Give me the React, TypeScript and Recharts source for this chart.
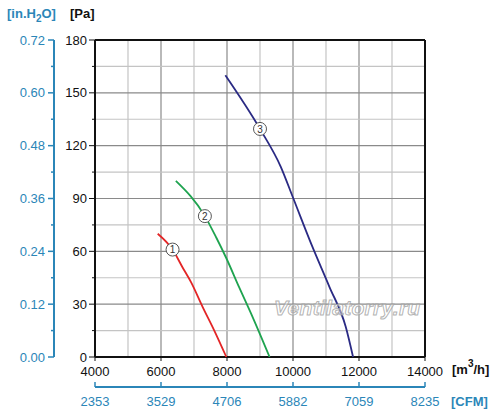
import React from 'react';
import { LineChart, Line, XAxis, YAxis, ReferenceLine } from 'recharts';

// Axis ticks and labels
const flowTicks = [4000, 5000, 6000, 7000, 8000, 9000, 10000, 11000, 12000, 13000, 14000];
const flowLabels = [4000, 6000, 8000, 10000, 12000, 14000];
const cfmLabels = ['2353', '3529', '4706', '5882', '7059', '8235'];
const paTicks = [0, 15, 30, 45, 60, 75, 90, 105, 120, 135, 150, 165, 180];
const paLabels = [0, 30, 60, 90, 120, 150, 180];
const inTicks = [0, 0.06, 0.12, 0.18, 0.24, 0.3, 0.36, 0.42, 0.48, 0.54, 0.6, 0.66, 0.72];
const inLabels = [0, 0.12, 0.24, 0.36, 0.48, 0.6, 0.72];

// Fan curves: air flow [m3/h] and static pressure [Pa]
const flow1 = [5900, 6350, 6650, 6910, 7260, 7615, 7980];
const pres1 = [70, 61, 51, 42.5, 28.5, 15, 0];
const flow2 = [6450, 7330, 7670, 7970, 8370, 8780, 9290];
const pres2 = [100, 80, 68, 56.5, 39.5, 22.5, 0];
const flow3 = [7950, 9000, 9630, 9990, 10590, 11100, 11600, 11820];
const pres3 = [160, 129.5, 108, 91, 62.5, 40, 17, 0];

const toPoints = (q: number[], p: number[]) => q.map((v, i) => ({ q: v, pa: p[i] }));
const curve1 = toPoints(flow1, pres1);
const curve2 = toPoints(flow2, pres2);
const curve3 = toPoints(flow3, pres3);

const BLUE = '#2b86b8';
const FONT = '"Liberation Sans", Arial, sans-serif';

// axis ids sort alphabetically: "a_" sits next to the plot, "b_" outside it
const X_M3 = 'a_m3';
const X_CFM = 'b_cfm';
const Y_PA = 'a_pa';
const Y_IN = 'b_in';

const PaTick = (props: any) => {
  const { x, y, payload } = props;
  const major = paLabels.includes(payload.value);
  return (
    <g>
      <line x1={x - (major ? 6 : 3)} x2={x} y1={y} y2={y} stroke="#111" />
      {major && (
        <text x={x - 8} y={y} dy="0.35em" textAnchor="end" fontSize={13} fill="#111" fontFamily={FONT}>
          {payload.value}
        </text>
      )}
    </g>
  );
};

const InTick = (props: any) => {
  const { x, y, payload } = props;
  const major = inLabels.some((v) => Math.abs(v - payload.value) < 1e-6);
  return (
    <g>
      <line x1={x - (major ? 6 : 3)} x2={x} y1={y} y2={y} stroke={BLUE} strokeWidth={1.5} />
      {major && (
        <text x={x - 9} y={y} dy="0.35em" textAnchor="end" fontSize={13} fill={BLUE} fontFamily={FONT}>
          {payload.value.toFixed(2)}
        </text>
      )}
    </g>
  );
};

const FlowTick = (props: any) => {
  const { x, y, payload } = props;
  const major = flowLabels.includes(payload.value);
  return (
    <g>
      <line x1={x} x2={x} y1={y} y2={y + (major ? 4 : 3)} stroke="#111" />
      {major && (
        <text x={x} y={y + 19} textAnchor="middle" fontSize={13} fill="#111" fontFamily={FONT}>
          {payload.value}
        </text>
      )}
    </g>
  );
};

const CfmTick = (props: any) => {
  const { x, y, payload } = props;
  const idx = flowLabels.indexOf(payload.value);
  return (
    <g>
      <line x1={x} x2={x} y1={y} y2={y - 5} stroke={BLUE} strokeWidth={1.5} />
      {idx >= 0 && (
        <text x={x} y={y + 19} textAnchor="middle" fontSize={13} fill={BLUE} fontFamily={FONT}>
          {cfmLabels[idx]}
        </text>
      )}
    </g>
  );
};

const curveTag = (at: number, name: string) => (props: any) => {
  const { x, y, index } = props;
  if (index !== at) return <g />;
  return (
    <g>
      <circle cx={x} cy={y} r={6.5} fill="#fff" stroke="#555" strokeWidth={1} />
      <text x={x} y={y} dy="0.36em" textAnchor="middle" fontSize={10} fill="#333" fontFamily={FONT}>
        {name}
      </text>
    </g>
  );
};

const App: React.FC = () => {
  return (
    <div style={{ position: 'absolute', left: 0, top: 0, width: 500, height: 418, fontFamily: FONT, background: '#fff' }}>
      <LineChart width={500} height={418} margin={{ top: 40, right: 75, bottom: 0, left: 0 }}>
        <XAxis
          xAxisId={X_M3}
          type="number"
          dataKey="q"
          domain={[4000, 14000]}
          ticks={flowTicks}
          height={30}
          axisLine={false}
          tickLine={false}
          tickSize={0}
          tickMargin={0}
          tick={FlowTick}
        />
        <XAxis
          xAxisId={X_CFM}
          type="number"
          dataKey="q"
          domain={[4000, 14000]}
          ticks={flowTicks}
          allowDataOverflow
          height={31}
          axisLine={{ stroke: BLUE, strokeWidth: 2 }}
          tickLine={false}
          tickSize={0}
          tickMargin={0}
          tick={CfmTick}
        />
        <YAxis
          yAxisId={Y_PA}
          type="number"
          dataKey="pa"
          domain={[0, 180]}
          ticks={paTicks}
          width={41}
          axisLine={false}
          tickLine={false}
          tickSize={0}
          tickMargin={0}
          tick={PaTick}
        />
        <YAxis
          yAxisId={Y_IN}
          type="number"
          domain={[0, 0.72]}
          ticks={inTicks}
          allowDataOverflow
          width={54}
          axisLine={{ stroke: BLUE, strokeWidth: 2 }}
          tickLine={false}
          tickSize={0}
          tickMargin={0}
          tick={InTick}
        />
        {flowTicks.slice(1, -1).map((v) => (
          <ReferenceLine
            key={'vx' + v}
            xAxisId={X_M3}
            yAxisId={Y_PA}
            x={v}
            stroke={flowLabels.includes(v) ? '#8a8a8a' : '#c4c4c4'}
            strokeWidth={1.2}
          />
        ))}
        {paTicks.slice(1, -1).map((v) => (
          <ReferenceLine
            key={'hy' + v}
            xAxisId={X_M3}
            yAxisId={Y_PA}
            y={v}
            stroke={paLabels.includes(v) ? '#8a8a8a' : '#c4c4c4'}
            strokeWidth={1.2}
          />
        ))}
        {/* plot frame */}
        <ReferenceLine xAxisId={X_M3} yAxisId={Y_PA} x={4000} stroke="#111" strokeWidth={2} />
        <ReferenceLine xAxisId={X_M3} yAxisId={Y_PA} x={14000} stroke="#111" strokeWidth={2} />
        <ReferenceLine xAxisId={X_M3} yAxisId={Y_PA} y={0} stroke="#111" strokeWidth={2} />
        <ReferenceLine xAxisId={X_M3} yAxisId={Y_PA} y={180} stroke="#111" strokeWidth={2} />
        <Line
          xAxisId={X_M3}
          yAxisId={Y_PA}
          data={curve1}
          dataKey="pa"
          type="monotone"
          stroke="#e32526"
          strokeWidth={1.8}
          dot={false}
          isAnimationActive={false}
          label={curveTag(1, '1')}
        />
        <Line
          xAxisId={X_M3}
          yAxisId={Y_PA}
          data={curve2}
          dataKey="pa"
          type="monotone"
          stroke="#1ea34f"
          strokeWidth={1.8}
          dot={false}
          isAnimationActive={false}
          label={curveTag(1, '2')}
        />
        <Line
          xAxisId={X_M3}
          yAxisId={Y_PA}
          data={curve3}
          dataKey="pa"
          type="monotone"
          stroke="#2a2a84"
          strokeWidth={1.8}
          dot={false}
          isAnimationActive={false}
          label={curveTag(1, '3')}
        />
      </LineChart>

      {/* axis titles and watermark */}
      <div style={{ position: 'absolute', left: 7, top: 6, fontSize: 13, fontWeight: 'bold', color: BLUE }}>
        [in.H<span style={{ fontSize: 10, position: 'relative', top: 4 }}>2</span>O]
      </div>
      <div style={{ position: 'absolute', left: 70, top: 6, fontSize: 13, fontWeight: 'bold', color: '#111' }}>[Pa]</div>
      <div style={{ position: 'absolute', left: 452, top: 362, fontSize: 13, fontWeight: 'bold', color: '#111' }}>
        [m<span style={{ fontSize: 10, position: 'relative', top: -7 }}>3</span>/h]
      </div>
      <div style={{ position: 'absolute', left: 451, top: 394, fontSize: 13, fontWeight: 'bold', color: BLUE }}>[CFM]</div>
      <div
        style={{
          position: 'absolute',
          left: 274,
          top: 296,
          fontSize: 21,
          fontStyle: 'italic',
          fontWeight: 'bold',
          color: 'rgba(255,255,255,0.45)',
          WebkitTextStroke: '1px rgba(160,160,160,0.8)',
          letterSpacing: 0.3,
          pointerEvents: 'none',
        }}
      >
        Ventilatorry.ru
      </div>
    </div>
  );
};

export default App;
